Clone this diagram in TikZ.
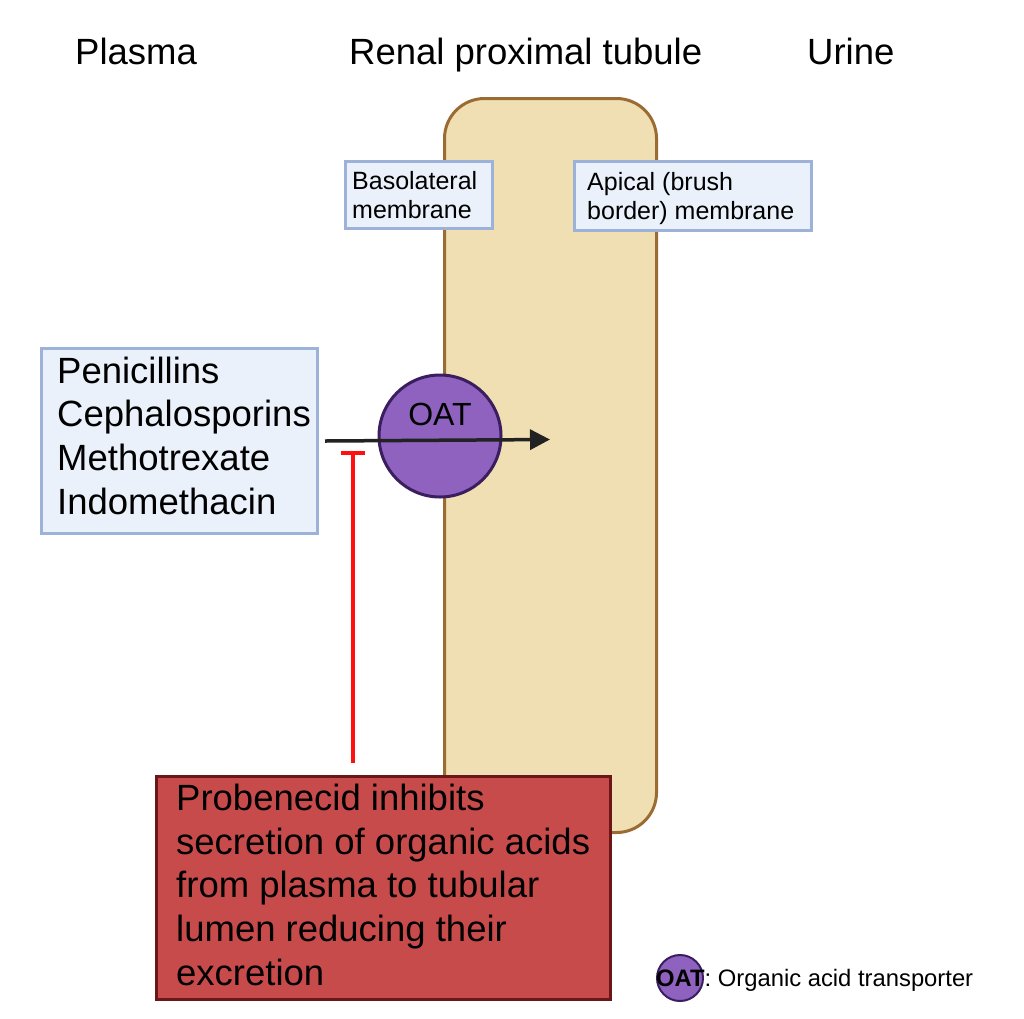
\documentclass[tikz,border=0pt]{standalone}
\usepackage{fontspec}
\setmainfont{Liberation Sans}
\usetikzlibrary{arrows.meta}
\definecolor{tubefill}{HTML}{F0DFB2}
\definecolor{tubeborder}{HTML}{9A6B32}
\definecolor{boxfill}{HTML}{EAF1FA}
\definecolor{boxborder}{HTML}{9DB2D8}
\definecolor{oatfill}{HTML}{8E62BE}
\definecolor{oatborder}{HTML}{3A1E5E}
\definecolor{redfill}{HTML}{C84B4B}
\definecolor{redborder}{HTML}{6B1717}
\definecolor{inhred}{HTML}{FF1010}
\definecolor{arrowblack}{HTML}{222222}
\begin{document}
\begin{tikzpicture}[x=1pt,y=-1pt,
  bigfont/.style={font=\fontsize{36.5}{43.6}\selectfont},
  smallfont/.style={font=\fontsize{25}{28.5}\selectfont},
  txt/.style={inner sep=0pt, anchor=base west, align=left},
  bluebox/.style={rectangle, draw=boxborder, fill=boxfill, line width=3pt, inner sep=0pt, anchor=north west},
  tubule/.style={rectangle, rounded corners=40pt, draw=tubeborder, fill=tubefill, line width=3pt, inner sep=0pt, anchor=north west},
  redbox/.style={rectangle, draw=redborder, fill=redfill, line width=3pt, inner sep=0pt, anchor=north west},
  oat/.style={circle, draw=oatborder, fill=oatfill, line width=3pt, inner sep=0pt},
  arrowline/.style={draw=arrowblack, line width=3.5pt, -{Triangle[length=20pt,width=20pt]}},
  inhib/.style={draw=inhred, line width=3.5pt, -{Bar[width=24pt]}}
]
\useasboundingbox (0,0) rectangle (1024,1018);
\fill[white] (0,0) rectangle (1024,1018);

% titles
\node[txt, bigfont] (tplasma) at (75,64) {Plasma};
\node[txt, bigfont] (ttubule) at (349,64) {Renal proximal tubule};
\node[txt, bigfont] (turine) at (807,64) {Urine};

% tubule
\node[tubule, minimum width=212pt, minimum height=734pt] (tube) at (443,97) {};

% membrane labels (base = last line)
\node[bluebox, minimum width=147pt, minimum height=67pt] (baso) at (344,160) {};
\node[txt, smallfont] (basotxt) at (352,218) {Basolateral\\membrane};
\node[bluebox, minimum width=237pt, minimum height=69pt] (apical) at (573,160) {};
\node[txt, smallfont] (apicaltxt) at (587,219) {Apical (brush\\border) membrane};

% drugs
\node[bluebox, minimum width=276pt, minimum height=185pt] (drugs) at (40,347) {};
\node[txt, bigfont] (drugtxt) at (57,514) {Penicillins\\Cephalosporins\\Methotrexate\\Indomethacin};

% OAT
\node[oat, minimum size=122pt] (oatc) at (440,436) {};
\node[inner sep=0pt, font=\fontsize{32}{36}\selectfont] (oatlabel) at (440,414) {OAT};

% arrow
\coordinate (arrowtip) at (550,439.5);
\draw[arrowline] ([xshift=6pt]drugs.east) -- (arrowtip);

% inhibition
\coordinate (inhstart) at (353,763);
\coordinate (inhend) at (353,451);
\draw[inhib] (inhstart) -- (inhend);

% probenecid box
\node[redbox, minimum width=454pt, minimum height=223pt] (probe) at (155,775) {};
\node[txt, bigfont] (probetxt) at (176,985) {Probenecid inhibits\\secretion of organic acids\\from plasma to tubular\\lumen reducing their\\excretion};

% legend
\node[oat, line width=2pt, minimum size=46pt] (legc) at (680,978) {};
\node[txt, font=\fontsize{23.8}{28}\selectfont] (legtxt) at (656,986) {\textbf{OAT}: Organic acid transporter};
\end{tikzpicture}
\end{document}
